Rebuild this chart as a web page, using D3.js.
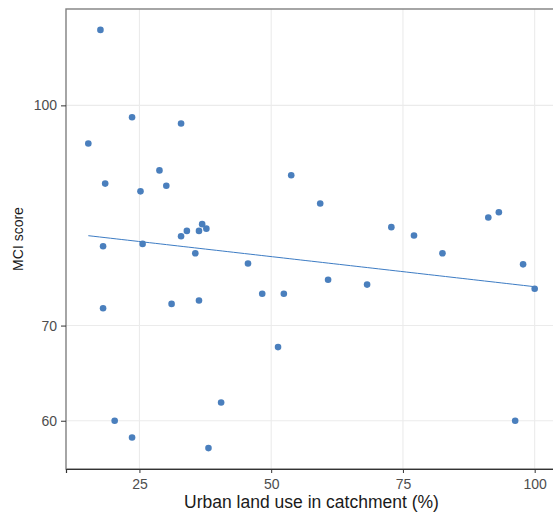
<!DOCTYPE html>
<html>
<head>
<meta charset="utf-8">
<script src="https://cdn.jsdelivr.net/npm/d3@7"></script>
<style>
  html, body { margin: 0; padding: 0; background: #fff; }
  svg { display: block; font-family: "Liberation Sans", Arial, sans-serif; }
</style>
</head>
<body>
<svg id="chart" width="553" height="515"></svg>
<script>
// Urban land use (%) in each catchment and the site's MCI score
const urbanPct = [17.6, 23.6, 32.9, 15.3, 28.8, 18.5, 30.1, 25.2, 36.9, 37.7,
                  34.0, 36.3, 32.9, 18.1, 25.6, 35.6, 53.8, 59.3, 72.8, 77.1,
                  91.2, 93.2, 82.5, 18.1, 31.1, 36.3, 45.6, 48.3, 51.3, 20.3,
                  23.6, 38.1, 40.5, 52.4, 60.8, 68.2, 97.8, 100.0, 96.3];
const mciScore = [113.0, 98.1, 97.1, 94.0, 90.0, 88.1, 87.8, 87.0, 82.5, 81.9,
                  81.6, 81.6, 80.9, 79.6, 79.9, 78.7, 89.3, 85.3, 82.1, 81.0,
                  83.4, 84.1, 78.7, 72.0, 72.5, 72.9, 77.4, 73.7, 67.6, 60.0,
                  58.4, 57.4, 61.8, 73.7, 75.4, 74.8, 77.3, 74.3, 60.0];
const xTicks = [25, 50, 75, 100];
const yTicks = [60, 70, 100];
const xTitle = "Urban land use in catchment (%)";
const yTitle = "MCI score";

const svg = d3.select("#chart");
const panel = { left: 66, top: 9, right: 557, bottom: 469 };
const pointColor = "#4a7fbd";
const tickFont = "Liberation Sans, Arial, sans-serif";

// Domains padded by 5% either side (y padded in log space)
const [xMin, xMax] = d3.extent(urbanPct);
const xPad = (xMax - xMin) * 0.05;
const x = d3.scaleLinear().domain([xMin - xPad, xMax + xPad]).range([panel.left, panel.right]);

const [yMin, yMax] = d3.extent(mciScore);
const lMin = Math.log10(yMin), lMax = Math.log10(yMax);
const lPad = (lMax - lMin) * 0.05;
const y = d3.scaleLog().domain([Math.pow(10, lMin - lPad), Math.pow(10, lMax + lPad)])
  .range([panel.bottom, panel.top]);

// Grid
const grid = svg.append("g");
grid.selectAll("line.gx").data(xTicks).join("line")
  .attr("x1", d => x(d)).attr("x2", d => x(d))
  .attr("y1", panel.top).attr("y2", panel.bottom)
  .attr("stroke", "#ebebeb").attr("stroke-width", 1.1);
grid.selectAll("line.gy").data(yTicks).join("line")
  .attr("x1", panel.left).attr("x2", panel.right)
  .attr("y1", d => y(d)).attr("y2", d => y(d))
  .attr("stroke", "#ebebeb").attr("stroke-width", 1.1);

// Least-squares fit of log10(score) on urban land use
const n = urbanPct.length;
const ly = mciScore.map(v => Math.log10(v));
const mx = d3.mean(urbanPct), my = d3.mean(ly);
let sxy = 0, sxx = 0;
for (let i = 0; i < n; i++) {
  sxy += (urbanPct[i] - mx) * (ly[i] - my);
  sxx += (urbanPct[i] - mx) ** 2;
}
const slope = sxy / sxx, intercept = my - slope * mx;
const fitX = d3.range(0, 81).map(i => xMin + (xMax - xMin) * i / 80);
svg.append("path")
  .datum(fitX)
  .attr("fill", "none")
  .attr("stroke", "#3d7cc4")
  .attr("stroke-width", 1)
  .attr("d", d3.line().x(d => x(d)).y(d => y(Math.pow(10, intercept + slope * d))));

// Points
svg.append("g").selectAll("circle").data(urbanPct.map((u, i) => [u, mciScore[i]])).join("circle")
  .attr("cx", d => x(d[0])).attr("cy", d => y(d[1]))
  .attr("r", 3.3).attr("fill", pointColor);

// Panel border and bottom axis line
svg.append("rect")
  .attr("x", panel.left).attr("y", panel.top)
  .attr("width", panel.right - panel.left).attr("height", panel.bottom - panel.top)
  .attr("fill", "none").attr("stroke", "#808080").attr("stroke-width", 1.4);

const xAxis = svg.append("g").attr("transform", `translate(0,${panel.bottom})`)
  .call(d3.axisBottom(x).tickValues(xTicks).tickSize(4).tickPadding(6.5).tickFormat(d3.format("d")));
xAxis.select(".domain").attr("stroke", "#333").attr("stroke-width", 1.2);
xAxis.selectAll(".tick line").attr("stroke", "#333");
xAxis.selectAll(".tick text").attr("fill", "#4d4d4d").attr("font-size", 14).attr("font-family", tickFont);

const yAxis = svg.append("g").attr("transform", `translate(${panel.left},0)`)
  .call(d3.axisLeft(y).tickValues(yTicks).tickSize(5).tickPadding(4).tickFormat(d3.format("d")));
yAxis.select(".domain").remove();
yAxis.selectAll(".tick line").attr("stroke", "#333");
yAxis.selectAll(".tick text").attr("fill", "#4d4d4d").attr("font-size", 14).attr("font-family", tickFont);

// Titles
svg.append("text")
  .attr("x", (panel.left + panel.right) / 2).attr("y", 508)
  .attr("text-anchor", "middle").attr("font-size", 17.5).attr("fill", "#1a1a1a")
  .text(xTitle);
svg.append("text")
  .attr("transform", `translate(23,${(panel.top + panel.bottom) / 2}) rotate(-90)`)
  .attr("text-anchor", "middle").attr("font-size", 14).attr("fill", "#1a1a1a")
  .text(yTitle);
</script>
</body>
</html>
